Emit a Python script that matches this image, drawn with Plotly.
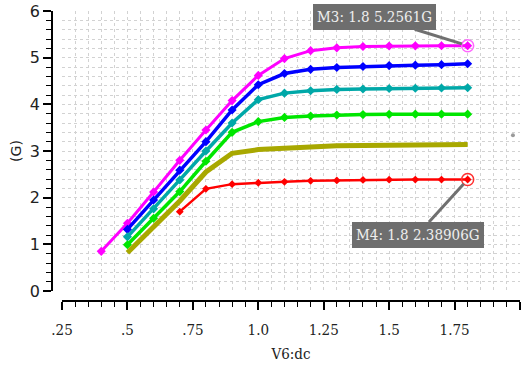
import plotly.graph_objects as go

# ---- data ----
x_mag = [0.4, 0.5, 0.6, 0.7, 0.8, 0.9, 1.0, 1.1, 1.2, 1.3, 1.4, 1.5, 1.6, 1.7, 1.8]
y_mag = [0.85, 1.45, 2.12, 2.80, 3.45, 4.08, 4.62, 4.98, 5.15, 5.21, 5.24, 5.25, 5.253, 5.255, 5.2561]

x_main = [0.5, 0.6, 0.7, 0.8, 0.9, 1.0, 1.1, 1.2, 1.3, 1.4, 1.5, 1.6, 1.7, 1.8]
y_blue = [1.32, 1.95, 2.59, 3.20, 3.88, 4.42, 4.66, 4.75, 4.79, 4.81, 4.83, 4.84, 4.85, 4.87]
y_cyan = [1.16, 1.76, 2.38, 3.00, 3.60, 4.10, 4.24, 4.29, 4.32, 4.33, 4.34, 4.345, 4.35, 4.355]
y_green = [0.99, 1.56, 2.13, 2.78, 3.40, 3.63, 3.72, 3.75, 3.77, 3.78, 3.785, 3.79, 3.79, 3.79]
y_olive = [0.82, 1.38, 1.93, 2.55, 2.95, 3.03, 3.06, 3.09, 3.11, 3.12, 3.13, 3.13, 3.14, 3.14]

x_red = [0.7, 0.8, 0.9, 1.0, 1.1, 1.2, 1.3, 1.4, 1.5, 1.6, 1.7, 1.8]
y_red = [1.70, 2.19, 2.29, 2.32, 2.34, 2.36, 2.37, 2.38, 2.385, 2.387, 2.388, 2.38906]

x_ticks = [0.25, 0.5, 0.75, 1.0, 1.25, 1.5, 1.75, 2.0]
x_ticktext = [".25", ".5", ".75", "1.0", "1.25", "1.5", "1.75", "2.0"]
y_ticks = [0, 1, 2, 3, 4, 5, 6]

m3 = (1.8, 5.2561, "M3: 1.8 5.2561G")
m4 = (1.8, 2.38906, "M4: 1.8 2.38906G")
stray = ([1.973], [3.34])

W, H = 530, 365
SERIF = "DejaVu Serif Condensed, DejaVu Serif, serif"
SANS = "DejaVu Sans, sans-serif"

fig = go.Figure()

series = [
    (x_mag, y_mag, "#ff00ff", 3, 7),
    (x_main, y_blue, "#0000ff", 3.5, 7),
    (x_main, y_cyan, "#00a8a8", 3.5, 7),
    (x_main, y_green, "#00e600", 3.5, 7),
    (x_main, y_olive, "#a8a800", 5, 0),
    (x_red, y_red, "#ff0000", 2.5, 6),
]
for xs, ys, c, w, ms in series:
    fig.add_trace(go.Scatter(
        x=xs, y=ys, mode="lines+markers" if ms else "lines",
        line=dict(color=c, width=w),
        marker=dict(symbol="diamond", size=ms, color=c),
        showlegend=False, hoverinfo="skip"))

# marker circles
fig.add_trace(go.Scatter(x=[m3[0]], y=[m3[1]], mode="markers",
                         marker=dict(symbol="circle-open", size=12, color="#ff66ff", line=dict(width=1.5)),
                         showlegend=False))
fig.add_trace(go.Scatter(x=[m4[0]], y=[m4[1]], mode="markers",
                         marker=dict(symbol="circle-open", size=12, color="#ff3030", line=dict(width=1.5)),
                         showlegend=False))
fig.add_trace(go.Scatter(x=stray[0], y=stray[1], mode="markers",
                         marker=dict(size=4, color="#9a9a9a"), showlegend=False))

for (mx, my, txt), ax, ay in [(m3, -93, -29), (m4, -50, 55)]:
    fig.add_annotation(x=mx, y=my, xref="x", yref="y", text=txt, showarrow=True,
                       ax=ax, ay=ay, arrowhead=0, arrowwidth=3, arrowcolor="#707070",
                       standoff=6, bgcolor="#6e6e6e", bordercolor="#6e6e6e", borderwidth=1,
                       borderpad=3, font=dict(family=SERIF, size=15, color="#eeeeee"))

grid = dict(showgrid=True, gridcolor="#d2d2d2", griddash="dot", gridwidth=1)

fig.update_layout(
    width=W, height=H, margin=dict(l=0, r=0, t=0, b=0, autoexpand=False),
    paper_bgcolor="white", plot_bgcolor="white",
    xaxis=dict(domain=[62 / W, 520 / W], range=[0.25, 2.0], anchor="free", position=(H - 301) / H,
               automargin=False, ticklabelstandoff=7,
               tickvals=x_ticks, ticktext=x_ticktext, ticks="outside", ticklen=8, tickwidth=1.5,
               tickcolor="black", showline=True, linecolor="black", linewidth=1.5, zeroline=False,
               tickfont=dict(family=SERIF, size=15, color="#222"),
               title=dict(text="V6:dc", font=dict(family=SERIF, size=15, color="#222"), standoff=10),
               minor=dict(dtick=0.05, tick0=0.25, ticks="outside", ticklen=5, tickwidth=1.2,
                          tickcolor="black", **grid),
               **grid),
    yaxis=dict(domain=[(H - 291) / H, (H - 11) / H], range=[0, 6], anchor="free", position=52 / W,
               automargin=False,
               tickvals=y_ticks, ticks="outside", ticklen=8, tickwidth=1.5, tickcolor="black",
               showline=True, linecolor="black", linewidth=1.5, zeroline=False,
               tickfont=dict(family=SANS, size=16, color="#222"),
               title=dict(text="(G)", font=dict(family=SANS, size=14, color="#222"), standoff=4),
               minor=dict(dtick=0.2, tick0=0, ticks="outside", ticklen=5, tickwidth=1.2,
                          tickcolor="black", **grid),
               **grid),
)

fig.write_html("out.html")
